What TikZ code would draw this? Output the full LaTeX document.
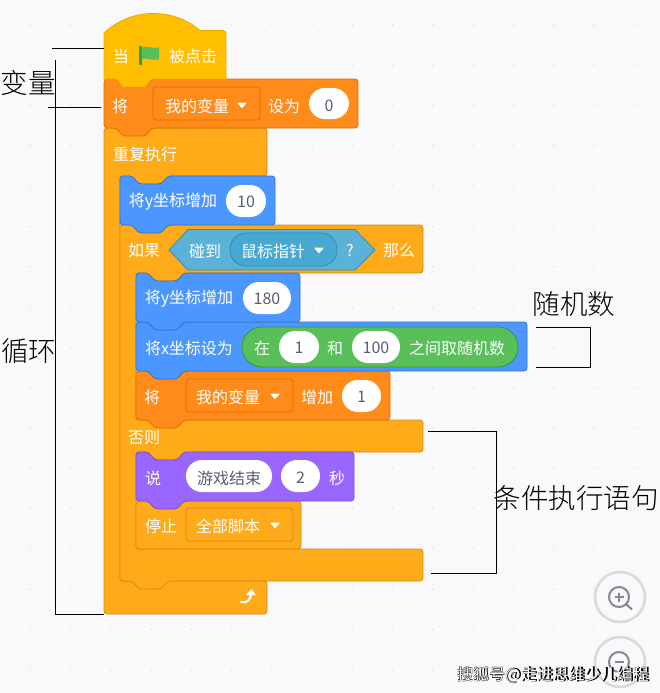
\documentclass[tikz,border=0pt]{standalone}
\usepackage{fontspec}
\setmainfont{Noto Sans CJK SC}
\newfontfamily\lightcjk{Noto Sans CJK SC}[UprightFont={* Light}]
\definecolor{bgc}{HTML}{F9F9FB}
\definecolor{dotc}{HTML}{E4E4E8}
\definecolor{hatf}{HTML}{FFBF00}\definecolor{hats}{HTML}{E6AC00}
\definecolor{varf}{HTML}{FF8C1A}\definecolor{vars}{HTML}{DB6E00}
\definecolor{ctlf}{HTML}{FFAB19}\definecolor{ctls}{HTML}{CF8B17}
\definecolor{motf}{HTML}{4C97FF}\definecolor{mots}{HTML}{3373CC}
\definecolor{senf}{HTML}{5CB1D6}\definecolor{sens}{HTML}{2E8EB8}
\definecolor{senm}{HTML}{47A8D1}
\definecolor{opf}{HTML}{59C059}\definecolor{ops}{HTML}{389438}
\definecolor{lookf}{HTML}{9966FF}\definecolor{looks}{HTML}{774DCB}
\definecolor{numc}{HTML}{575E75}
\definecolor{ringc}{HTML}{DADADC}\definecolor{iconc}{HTML}{84888F}
\tikzset{
  blockedge/.style={line width=0.8pt,rounded corners=3pt,line join=round},
  wtext/.style={text=white,font=\fontsize{16}{17}\selectfont,inner sep=0pt,anchor=center,yshift=-1pt},
  ntext/.style={text=numc,font=\fontsize{16}{17}\selectfont,inner sep=0pt,anchor=center,yshift=-1pt},
  ddbox/.style={rounded corners=3pt,line width=0.8pt},
  note/.style={text=black,font=\lightcjk\fontsize{27.5}{28}\selectfont,inner sep=0pt,anchor=center},
  leader/.style={draw=black,line width=0.9pt},
}
% x1 y1 x2 y2 fill stroke : stack block with top notch and bottom tab
\newcommand\stackblk[6]{%
  \draw[blockedge,fill=#5,draw=#6] (#1,#2)--({#1+12},#2)--({#1+19},{#2+8})--({#1+41},{#2+8})--({#1+48},#2)
   --(#3,#2)--(#3,#4)--({#1+48},#4)--({#1+41},{#4+8})--({#1+19},{#4+8})--({#1+12},#4)--(#1,#4)--cycle;}
% name x1 y1 x2 y2 : pill
\newcommand\pill[5]{\fill[white,rounded corners=15.9pt] (#2,#3) rectangle (#4,#5);}
\newcommand\tri[2]{\fill[white,line join=round,draw=white,line width=1pt] ({#1-4},{#2-2})--({#1+4},{#2-2})--(#1,{#2+2.5})--cycle;}
\begin{document}
\begin{tikzpicture}[x=1pt,y=-1pt]
\useasboundingbox (0,0) rectangle (660,693);
\fill[bgc] (0,0) rectangle (660,693);
\foreach \i in {0,...,15}{\foreach \j in {0,...,16}{
  \fill[dotc] ({30+40.3*\i},{25+40.3*\j}) circle (1pt);}}

% forever
\draw[blockedge,fill=ctlf,draw=ctls] (104,128)--(267,128)--(267,176)--(168,176)--(161,184)--(139,184)--(132,176)--(120,176)--(120,581)--(267,581)--(267,614)--(104,614)--cycle;
% if / else
\draw[blockedge,fill=ctlf,draw=ctls] (120,225)--(423,225)--(423,273)--(184,273)--(177,281)--(155,281)--(148,273)--(136,273)--(136,420)--(423,420)--(423,452)--(184,452)--(177,460)--(155,460)--(148,452)--(136,452)--(136,549)--(423,549)--(423,581)--(168,581)--(161,589)--(139,589)--(132,581)--(120,581)--cycle;
% stop
\draw[blockedge,fill=ctlf,draw=ctls] (136,501)--(301,501)--(301,549)--(136,549)--cycle;
\draw[ddbox,draw=ctls,fill=ctlf] (186,508) rectangle (293,541);
\node[wtext] (stoplabel) at (161,525) {停止};
\node[wtext] (stopall) at (228,525) {全部脚本};
\tri{275}{525}
% say
\stackblk{136}{452}{354}{501}{lookf}{looks}
\node[wtext] (saylabel) at (153,477) {说};
\pill{sayoval}{186}{460}{272}{492}
\node[ntext] (saytext) at (229,477) {游戏结束};
\pill{secoval}{281}{460}{320}{492}
\node[ntext] (sectext) at (300.5,477) {2};
\node[wtext] (seclabel) at (337,477) {秒};
% change var
\stackblk{136}{371}{390}{420}{varf}{vars}
\node[wtext] (chglabel) at (152,396) {将};
\draw[ddbox,draw=vars,fill=varf] (186,379) rectangle (293,412);
\node[wtext] (chgvar) at (228,396) {我的变量};
\tri{275}{396}
\node[wtext] (chgby) at (317,396) {增加};
\pill{chgoval}{342}{380}{381}{412}
\node[ntext] (chgnum) at (361.5,396) {1};
% set x
\stackblk{136}{322}{527}{371}{motf}{mots}
\node[wtext] (setxlabel) at (189,347) {将x坐标设为};
\draw[line width=0.8pt,draw=ops,fill=opf,rounded corners=19.9pt] (242,327) rectangle (518,367);
\node[wtext] (rnd1) at (262,347) {在};
\pill{rndovala}{279}{331}{319}{363}
\node[ntext] (rndnuma) at (299,347) {1};
\node[wtext] (rnd2) at (335,347) {和};
\pill{rndovalb}{352}{331}{400}{363}
\node[ntext] (rndnumb) at (376,347) {100};
\node[wtext] (rnd3) at (457,347) {之间取随机数};
% change y 180
\stackblk{136}{273}{300}{322}{motf}{mots}
\node[wtext] (ybiglabel) at (189,298) {将y坐标增加};
\pill{ybigoval}{243}{282}{291}{314}
\node[ntext] (ybignum) at (267,298) {180};
% if text
\node[wtext] (iflabel) at (144,249) {如果};
\draw[line width=0.8pt,draw=sens,fill=senf,line join=round] (169,250)--(188,229.5)--(355,229.5)--(375,250)--(355,270)--(188,270)--cycle;
\node[wtext] (touch) at (205,250) {碰到};
\draw[line width=0.8pt,draw=sens,fill=senm,rounded corners=16pt] (230,233) rectangle (337,266);
\node[wtext] (mouse) at (273,250) {鼠标指针};
\tri{319}{250}
\node[wtext] (qmark) at (350,250) {?};
\node[wtext] (thenlabel) at (399,249) {那么};
\node[wtext] (elselabel) at (144,436) {否则};
% change y 10
\stackblk{120}{176}{275}{225}{motf}{mots}
\node[wtext] (ylabel) at (173,201) {将y坐标增加};
\pill{yoval}{226}{185}{266}{217}
\node[ntext] (ynum) at (246,201) {10};
% forever text
\node[wtext] (foreverlabel) at (145,153) {重复执行};
% loop arrow
\draw[white,line width=2.2pt,line cap=round] (241,602) .. controls (247,604) and (251,599) .. (251,594);
\fill[white] (246,595)--(251.5,589)--(256,595)--cycle;
% set var
\stackblk{104}{79}{358}{128}{varf}{vars}
\node[wtext] (setlabel) at (120,105) {将};
\draw[ddbox,draw=vars,fill=varf] (153,87) rectangle (260,120);
\node[wtext] (setvar) at (197,105) {我的变量};
\tri{242}{105}
\node[wtext] (setto) at (284,105) {设为};
\pill{setoval}{309}{88}{349}{119}
\node[ntext] (setnum) at (329,105) {0};
% hat
\draw[line width=0.8pt,fill=hatf,draw=hats,line join=round] (104,33) .. controls (118,20) and (135,13.5) .. (153,13.5) .. controls (172,13.5) and (188,20) .. (200,30.5)--(223,30.5) .. controls (225,30.5) and (226,32) .. (226,34)--(226,79)--(152,79)--(145,87)--(123,87)--(116,79)--(104,79)--cycle;
\node[wtext] (whenlabel) at (121,55) {当};
\fill[fill=opf] (140.5,48) .. controls (146,44) and (152,50) .. (159,47)--(159,59) .. controls (152,62) and (146,56) .. (140.5,60)--cycle;
\fill[fill=ops!80!opf] (139,46) rectangle (141.5,65.5);
\node[wtext] (clicked) at (193,55) {被点击};

% annotations
\node[note] (varnote) at (28.5,83) {变量};
\node[note] (loopnote) at (29,351) {循环};
\node[note] (rndnote) at (574,304) {随机数};
\node[note] (condnote) at (576,498) {条件执行语句};
\coordinate (hatl) at (104,48);\coordinate (hatm) at (52,48);
\coordinate (varl) at (101,107);\coordinate (varm) at (48,107);
\coordinate (looptop) at (55,60);\coordinate (loopbot) at (55,614);\coordinate (loopend) at (104,614);
\coordinate (ra) at (536,327);\coordinate (rb) at (590,327);\coordinate (rc) at (590,367);\coordinate (rd) at (536,367);
\coordinate (ca) at (428,431);\coordinate (cb) at (496,431);\coordinate (cc) at (496,573);\coordinate (cd) at (431,573);
\draw[leader] (hatm)--(hatl);
\draw[leader] (varm)--(varl);
\draw[leader] (looptop)--(loopbot)--(loopend);
\draw[leader] (ra)--(rb)--(rc)--(rd);
\draw[leader] (ca)--(cb)--(cc)--(cd);

% zoom controls
\draw[ringc,line width=2.6pt,fill=bgc] (620,597) circle (25);
\draw[iconc,line width=2pt] (619,597) circle (10);
\draw[iconc,line width=2pt] (626,604)--(632,609.5);
\draw[iconc,line width=1.6pt] (614.5,597)--(623.5,597) (619,592.5)--(619,601.5);
\draw[ringc,line width=2.6pt,fill=bgc] (620,662) circle (25);
\draw[iconc,line width=2pt] (619,662) circle (10);
\draw[iconc,line width=1.6pt] (614.5,662)--(623.5,662);

% watermark
\node[inner sep=0pt,text=black,font=\bfseries\fontsize{16}{17}\selectfont] (markshadow) at (553.6,675.6) {搜狐号@走进思维少儿编程};
\node[inner sep=0pt,text=white,font=\fontsize{16}{17}\selectfont] (mark) at (553,675) {搜狐号@走进思维少儿编程};
\end{tikzpicture}
\end{document}
